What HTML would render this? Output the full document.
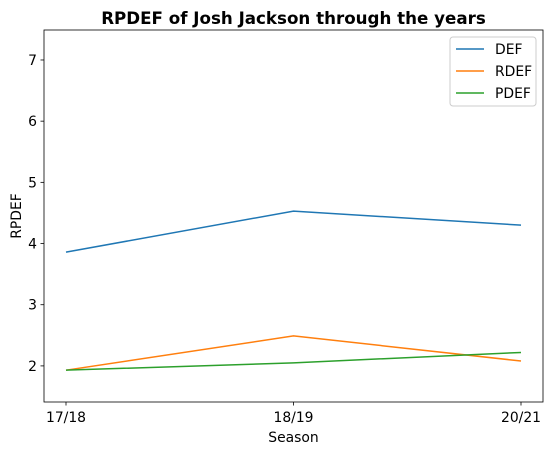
<!DOCTYPE html>
<html><head><meta charset="utf-8"><style>
body{margin:0;background:#fff;font-family:"DejaVu Sans","Liberation Sans",sans-serif;}
</style></head><body>
<svg id="chart" width="554" height="455" xmlns="http://www.w3.org/2000/svg" font-family="DejaVu Sans, Liberation Sans, sans-serif"></svg>
<script>
const categories = ["17/18","18/19","20/21"];
const defValues = [3.86, 4.53, 4.30];
const rdefValues = [1.93, 2.49, 2.08];
const pdefValues = [1.93, 2.05, 2.22];
const yTicks = [2,3,4,5,6,7];
const seriesNames = ["DEF","RDEF","PDEF"];
const colors = ["#1f77b4","#ff7f0e","#2ca02c"];

const svg = document.getElementById('chart');
const NS = "http://www.w3.org/2000/svg";
const L=44, R=543, T=30, B=402;
const yMin=1.41, yMax=7.49;
const x0=66, x1=521;
function xs(i){return x0 + i*(x1-x0)/(categories.length-1);}
function ys(v){return B - (v-yMin)/(yMax-yMin)*(B-T);}
function mk(tag, attrs, text){
  const e=document.createElementNS(NS,tag);
  for(const k in attrs) e.setAttribute(k, attrs[k]);
  if(text!==undefined) e.textContent=text;
  svg.appendChild(e); return e;
}
let e;
e = mk('text',{x:(L+R)/2,y:24,'text-anchor':'middle','font-size':16.7,'font-weight':'bold',fill:'#000'},'RPDEF of Josh Jackson through the years');



const all=[defValues, rdefValues, pdefValues];
all.forEach((vals,si)=>{
  const pts = vals.map((v,i)=>xs(i)+','+ys(v)).join(' ');
  const p = mk('polyline',{points:pts,fill:'none',stroke:colors[si],'stroke-width':1.5});
  
  
});

e = mk('rect',{x:L,y:T,width:R-L,height:B-T,fill:'none',stroke:'#000','stroke-width':0.8});



yTicks.forEach(t=>{
  const y=ys(t);
  mk('line',{x1:L-3.5,x2:L,y1:y,y2:y,stroke:'#000','stroke-width':0.8});
  const tx = mk('text',{x:L-7,y:y+5,'text-anchor':'end','font-size':13.9,fill:'#000'},String(t));
  
  
});
categories.forEach((c,i)=>{
  const x=xs(i);
  mk('line',{x1:x,x2:x,y1:B,y2:B+3.5,stroke:'#000','stroke-width':0.8});
  const tx = mk('text',{x:x,y:B+20,'text-anchor':'middle','font-size':13.9,fill:'#000'},c);
  
  
});
e = mk('text',{x:(L+R)/2,y:442,'text-anchor':'middle','font-size':13.9,fill:'#000'},'Season');


e = mk('text',{x:21,y:(T+B)/2,'text-anchor':'middle','font-size':13.9,fill:'#000',transform:'rotate(-90 21 '+((T+B)/2)+')'},'RPDEF');



e = mk('rect',{x:450,y:37,width:86,height:69,rx:3,fill:'#fff',stroke:'#ccc','stroke-width':1});


seriesNames.forEach((n,i)=>{
  const y=49+i*22;
  const ln = mk('line',{x1:456,x2:484,y1:y,y2:y,stroke:colors[i],'stroke-width':1.5});
  
  
  const tx = mk('text',{x:495,y:y+5,'font-size':13.9,fill:'#000'},n);
  
  
});
</script>
</body></html>
